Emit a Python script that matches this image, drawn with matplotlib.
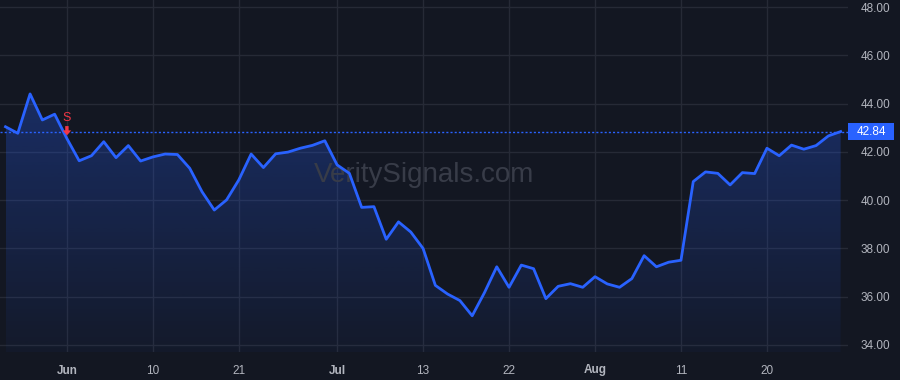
import matplotlib
matplotlib.use('Agg')
import matplotlib.pyplot as plt
import matplotlib.transforms as mtransforms
from matplotlib.patches import Rectangle, Polygon
import numpy as np
import pandas as pd

# ---- data ----
dates = pd.bdate_range('2021-05-24', '2021-08-30')
holidays = pd.to_datetime(['2021-05-31', '2021-07-05'])
dates = dates[~dates.isin(holidays)]

prices = [43.04, 42.77, 44.40, 43.32, 43.56, 42.55, 41.63, 41.84, 42.42, 41.76,
          42.26, 41.62, 41.79, 41.91, 41.89, 41.32, 40.35, 39.59, 40.01, 40.84,
          41.91, 41.35, 41.92, 41.99, 42.15, 42.27, 42.46, 41.46, 41.11, 39.70,
          39.73, 38.38, 39.10, 38.68, 38.00, 36.47, 36.11, 35.84, 35.21, 36.17,
          37.24, 36.39, 37.31, 37.16, 35.92, 36.43, 36.54, 36.39, 36.83, 36.53,
          36.39, 36.75, 37.70, 37.24, 37.43, 37.51, 40.77, 41.17, 41.11, 40.63,
          41.14, 41.10, 42.15, 41.84, 42.28, 42.11, 42.26, 42.66, 42.84]

tick_dates = ['2021-06-01', '2021-06-10', '2021-06-21', '2021-07-01', '2021-07-13',
              '2021-07-22', '2021-08-02', '2021-08-11', '2021-08-20']
tick_labels = ['Jun', '10', '21', 'Jul', '13', '22', 'Aug', '11', '20']
month_labels = ['Jun', 'Jul', 'Aug']

y_ticks = [34, 36, 38, 40, 42, 44, 46, 48]

signal_date = '2021-06-01'
signal_text = 'S'
last_price = prices[-1]
watermark = 'VeritySignals.com'

# ---- style ----
BG = '#131722'
GRID = '#262a36'
LINE = '#2962ff'
TXT = '#b2b5be'
RED = '#f23645'
plt.rcParams['font.family'] = ['Liberation Sans', 'DejaVu Sans']

fig = plt.figure(figsize=(9, 3.8), dpi=100, facecolor=BG)
ax = fig.add_axes([0, 28 / 380, 848 / 900, 352 / 380])
ax.set_facecolor(BG)

x = np.arange(len(prices))
XLIM = (-0.448, 68.6)
YLIM = (33.71, 48.29)
ax.set_xlim(*XLIM)
ax.set_ylim(*YLIM)

# gradient fill under line
ymin = YLIM[0]
top = max(prices)
grad = np.linspace(0.04, 0.30, 256).reshape(-1, 1)
rgba = np.zeros((256, 1, 4))
rgba[..., 0] = 41 / 255
rgba[..., 1] = 98 / 255
rgba[..., 2] = 1.0
rgba[..., 3] = grad
im = ax.imshow(rgba, extent=[x[0], x[-1], ymin, top], origin='lower',
               aspect='auto', zorder=1, interpolation='bilinear')
verts = [(x[0], ymin)] + list(zip(x, prices)) + [(x[-1], ymin)]
poly = Polygon(verts, closed=True, facecolor='none', edgecolor='none')
ax.add_patch(poly)
im.set_clip_path(poly)
ax.set_xlim(*XLIM)
ax.set_ylim(*YLIM)

ax.plot(x, prices, color=LINE, lw=2, zorder=3, solid_joinstyle='round')

# last price dotted line
ax.axhline(last_price, color=LINE, lw=1, ls=(0, (1.5, 1.5)), zorder=2)

# grid
ax.set_yticks(y_ticks)
ax.set_yticklabels([f'{v:.2f}' for v in y_ticks])
pos = [int(np.where(dates == pd.Timestamp(d))[0][0]) for d in tick_dates]
ax.set_xticks(pos)
ax.set_xticklabels(tick_labels)
ax.grid(True, color=GRID, lw=1, zorder=0)
ax.set_axisbelow(True)
for s in ax.spines.values():
    s.set_visible(False)
ax.yaxis.tick_right()
ax.tick_params(axis='y', length=0, pad=9, labelcolor=TXT, labelsize=8.5)
ax.tick_params(axis='x', length=0, pad=9, labelcolor=TXT, labelsize=8.5)
for lab in ax.get_xticklabels():
    if lab.get_text() in month_labels:
        lab.set_fontweight('bold')

# price label box
trans = mtransforms.blended_transform_factory(ax.transAxes, ax.transData)
h = 17 / 24.14
rect = Rectangle((1.0, last_price - h / 2), 46 / 848, h, transform=trans,
                 facecolor=LINE, edgecolor='none', clip_on=False, zorder=5)
ax.add_patch(rect)
ax.text(1.0 + 23 / 848, last_price, f'{last_price:.2f}', transform=trans,
        ha='center', va='center', color='white', fontsize=8.5, zorder=6,
        clip_on=False)

# signal marker: down arrow (pixel-sized) anchored at the signal bar
si = int(np.where(dates == pd.Timestamp(signal_date))[0][0])
ax_px = ax.transData.transform((si, last_price))
arrow_tr = mtransforms.Affine2D().translate(*ax_px)
arrow = Polygon([(-1.7, 5.5), (1.7, 5.5), (1.7, 1.2), (4.3, 1.2), (0, -3.8),
                 (-4.3, 1.2), (-1.7, 1.2)], closed=True, facecolor=RED,
                edgecolor='none', transform=arrow_tr, zorder=6)
fig.add_artist(arrow)
ax.text(si, 43.40, signal_text, color=RED, ha='center', va='center', fontsize=9, zorder=6)

# watermark
ax.text(0.5, 0.4838, watermark, transform=ax.transAxes, ha='center', va='baseline',
        color='#383c48', fontsize=20, zorder=2)

fig.savefig('out.png', dpi=100, facecolor=BG)
